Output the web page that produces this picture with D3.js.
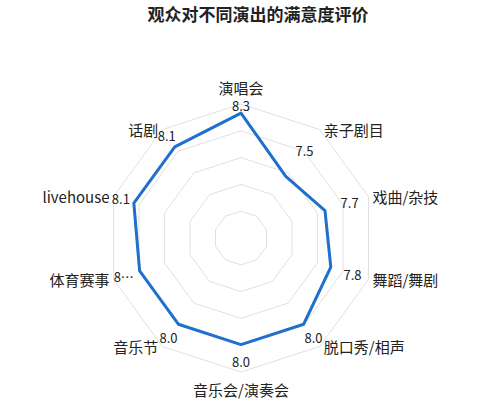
<!DOCTYPE html>
<html>
<head>
<meta charset="utf-8">
<script src="https://cdn.jsdelivr.net/npm/d3@7"></script>
<style>
  body { margin: 0; background: #fff; }
  text { font-family: "Noto Sans CJK SC", "Noto Sans", sans-serif; }
</style>
</head>
<body>
<svg id="chart"></svg>
<script>
const categories = ["演唱会", "亲子剧目", "戏曲/杂技", "舞蹈/舞剧", "脱口秀/相声", "音乐会/演奏会", "音乐节", "体育赛事", "livehouse", "话剧"];
const scores = [8.3, 7.5, 7.7, 7.8, 8.0, 8.0, 8.0, 8.0, 8.1, 8.1];
// the chart cut one value label short, keep it like that
const scoreLabels = ["8.3", "7.5", "7.7", "7.8", "8.0", "8.0", "8.0", "8…", "8.1", "8.1"];
const title = "观众对不同演出的满意度评价";

const width = 500, height = 408;
const cx = 241, cy = 238, R = 134;
const rings = 5;

const svg = d3.select("#chart")
    .attr("width", width)
    .attr("height", height);

svg.append("text")
    .attr("x", 258)
    .attr("y", 21)
    .attr("text-anchor", "middle")
    .style("font-size", "17px")
    .style("font-weight", "bold")
    .attr("fill", "#222")
    .text(title);

const g = svg.append("g").attr("transform", `translate(${cx},${cy})`);

const angle = d3.scalePoint()
    .domain(categories)
    .range([0, 2 * Math.PI * (1 - 1 / categories.length)]);

const r = d3.scaleLinear()
    .domain([6.25, 8.45])
    .range([0, R]);

const px = (a, rad) => rad * Math.sin(a);
const py = (a, rad) => -rad * Math.cos(a);

// grid rings (polygons)
d3.range(1, rings + 1).forEach(i => {
    const rr = R * i / rings;
    g.append("polygon")
        .attr("points", categories.map(c => [px(angle(c), rr), py(angle(c), rr)].join(",")).join(" "))
        .attr("fill", "none")
        .attr("stroke", "#e0e0e0")
        .attr("stroke-width", 1);
});

// data line
const radial = d3.lineRadial()
    .angle((d, i) => angle(categories[i]))
    .radius(d => r(d))
    .curve(d3.curveLinearClosed);

g.append("path")
    .datum(scores)
    .attr("d", radial)
    .attr("fill", "none")
    .attr("stroke", "#1f6fcc")
    .attr("stroke-width", 3)
    .attr("stroke-linejoin", "round");

// category names at the outer ring
categories.forEach(c => {
    const a = angle(c);
    const s = Math.sin(a), co = Math.cos(a);
    const vertical = Math.abs(s) < 0.1;
    const gap = vertical ? 17 : 4;
    const t = g.append("text")
        .attr("x", px(a, R) + (vertical ? 0 : Math.sign(s) * gap))
        .attr("y", vertical ? py(a, R) - Math.sign(co) * gap : py(a, R))
        .attr("text-anchor", vertical ? "middle" : (s > 0 ? "start" : "end"))
        .attr("dominant-baseline", "central")
        .style("font-size", "15px")
        .attr("fill", "#222")
        .text(c);
});

// value labels, placed on the axis between the point and the outer ring
scores.forEach((v, i) => {
    const a = angle(categories[i]);
    const lr = Math.min(R, (r(v) + R) / 2 + 3);
    g.append("text")
        .attr("x", px(a, lr))
        .attr("y", py(a, lr))
        .attr("text-anchor", "middle")
        .attr("dominant-baseline", "central")
        .style("font-size", "13px")
        .attr("fill", "#222")
        .text(scoreLabels[i]);
});
</script>
</body>
</html>
